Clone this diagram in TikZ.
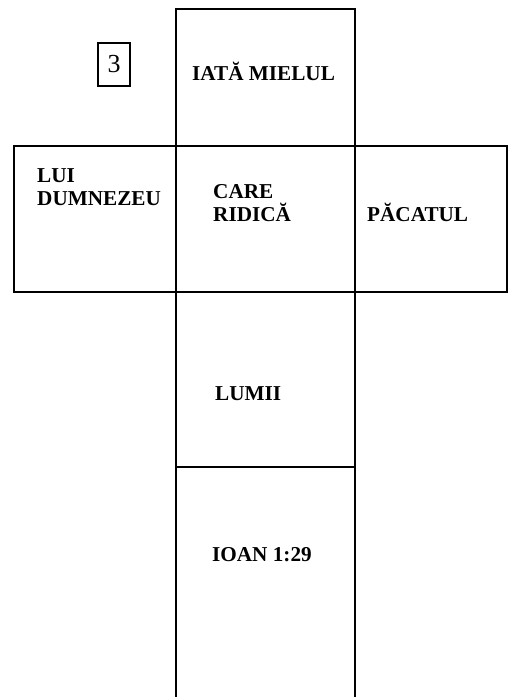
\documentclass[tikz,border=0pt]{standalone}
\usepackage{fontspec}
\setmainfont{Liberation Serif}
\begin{document}
\begin{tikzpicture}[x=1pt,y=-1pt,
  cell/.style={draw=black,line width=2.5pt},
  lbl/.style={anchor=base west,inner sep=0pt,font=\fontsize{21.2}{23.3}\selectfont\bfseries,align=left}]
\useasboundingbox (0,0) rectangle (509,697);
% cells of the cross
\draw[cell] (176,9) rectangle (355,146);
\draw[cell] (14,146) rectangle (176,292);
\draw[cell] (176,146) rectangle (355,292);
\draw[cell] (355,146) rectangle (507,292);
\draw[cell] (176,292) rectangle (355,467);
\draw[cell] (176,698) -- (176,467) -- (355,467) -- (355,698);
% number box
\node[draw=black,line width=2.5pt,minimum width=32pt,minimum height=43pt,inner sep=0pt,font=\fontsize{26}{28}\selectfont] (num) at (114,64.5) {3};
% texts
\node[lbl] (t1) at (192,80) {IATĂ MIELUL};
\node[lbl] (t2) at (37,205.5) {LUI\\DUMNEZEU};
\node[lbl] (t3) at (213,221.5) {CARE\\RIDICĂ};
\node[lbl] (t4) at (367,221) {PĂCATUL};
\node[lbl] (t5) at (215,400) {LUMII};
\node[lbl] (t6) at (212,561) {IOAN 1:29};
\end{tikzpicture}
\end{document}
